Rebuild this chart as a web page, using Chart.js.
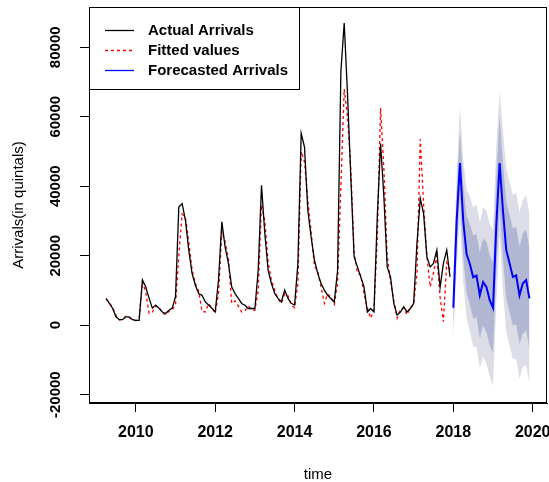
<!DOCTYPE html>
<html>
<head>
<meta charset="utf-8">
<script src="https://cdn.jsdelivr.net/npm/chart.js@4.4.1/dist/chart.umd.min.js"></script>
<style>
	html, body { margin: 0; padding: 0; background: #fff; }
	#wrap { width: 549px; height: 482px; }
</style>
</head>
<body>
<div id="wrap"><canvas id="arrivalsChart"></canvas></div>
<script>
// monthly series, first observation April 2009
const startYear = 2009.25;
const actualArrivals = [
	7700, 6250, 4800, 2400, 1600, 1600, 2400, 2400, 1600, 1400, 1400, 13000,
	11000, 7800, 4900, 5800, 4900, 3800, 3350, 4300, 4900, 8200, 34000, 35000,
	30200, 21600, 14900, 11500, 9100, 8600, 6700, 5800, 4900, 3800, 13000, 29800,
	22500, 17800, 11000, 9100, 7700, 6250, 5760, 4800, 4800, 4800, 15800, 40300,
	26400, 15800, 12000, 9100, 7700, 6700, 10100, 7700, 6300, 5800, 17800, 55200,
	51300, 33100, 25400, 18700, 14900, 12000, 10100, 8600, 7700, 6700, 15800, 73000,
	87000, 66700, 42700, 19700, 16800, 13900, 11000, 3800, 4800, 3800, 31200, 52300,
	37000, 16800, 13900, 6250, 2900, 3800, 5300, 3800, 4800, 6250, 23500, 36500,
	32200, 19700, 16800, 17800, 21600, 11000, 17800, 21600, 13900
];
const fittedValues = [
	7500, 6500, 5000, 2800, 1500, 1800, 2600, 2200, 1500, 1300, 2000, 12500,
	9500, 3400, 3800, 5500, 5200, 3500, 3000, 4000, 4500, 6000, 20000, 32000,
	31000, 24000, 16000, 12000, 9800, 4000, 3800, 6200, 5000, 3500, 9000, 27000,
	24000, 19000, 6300, 7000, 5500, 3800, 4200, 5500, 4500, 4300, 10000, 34600,
	30000, 18000, 13000, 10000, 7500, 6300, 9000, 8500, 5800, 5000, 12000, 50000,
	47000, 36000, 27000, 17000, 15500, 11000, 6300, 9000, 8000, 6000, 12000, 40000,
	68000, 60000, 45000, 21000, 15000, 14500, 9000, 5000, 2000, 4500, 25000, 62500,
	45000, 20000, 12500, 7200, 2000, 4500, 5000, 3000, 5000, 6000, 15000, 53500,
	35000, 20000, 11000, 15000, 20000, 8000, 1000, 18000, 16000
];

// forecast, January 2018 to December 2019
const forecastStart = 2018.0;
const forecastMean = [
	5000, 30000, 46700, 30000, 20500, 17600, 13800, 14300, 8600, 12400, 11000, 7200,
	5000, 29000, 46700, 33000, 21600, 17800, 13900, 14300, 8600, 12000, 13000, 7700
];
const hi80 = [
	11000, 38000, 56200, 40500, 31500, 29100, 25800, 26300, 21100, 24900, 24000, 20200,
	18000, 42500, 60200, 46500, 35600, 31800, 27900, 28300, 22600, 26500, 27500, 22200
];
const lo80 = [
	-1000, 22000, 37200, 19500, 9500, 6100, 1800, 2300, -3900, -100, -2000, -5800,
	-8000, 15500, 33200, 19500, 7600, 3800, -100, 300, -5400, -2500, -1500, -6800
];
const hi95 = [
	15000, 43000, 62700, 47500, 39000, 37100, 33800, 34800, 29600, 33900, 33000, 29200,
	27500, 51500, 67500, 56000, 45100, 41300, 37400, 38300, 32600, 36000, 37500, 32200
];
const lo95 = [
	-5000, 17000, 30700, 12500, 2000, -1900, -6200, -6200, -12400, -9100, -11000, -14800,
	-17500, 6500, 25900, 10000, -1900, -5700, -9600, -9700, -15400, -12000, -11500, -16800
];

const xTicks = [2010, 2012, 2014, 2016, 2018, 2020];
const yTicks = [-20000, 0, 20000, 40000, 60000, 80000];

const FONT = '"Liberation Sans", Arial, sans-serif';

function toPoints(values, start)
{
	return values.map((v, i) => ({ x: start + i / 12, y: v }));
}

// box round the plot region and the rotated y labels (R draws them along the axis)
const rAxesPlugin = {
	id: 'rAxes',
	afterDraw(chart) {
		const { ctx, chartArea, scales } = chart;
		ctx.save();
		ctx.strokeStyle = '#000';
		ctx.lineWidth = 1;
		ctx.strokeRect(chartArea.left + 0.5, chartArea.top + 0.5,
			chartArea.right - chartArea.left - 1, chartArea.bottom - chartArea.top - 1);

		ctx.font = 'bold 15px ' + FONT;
		ctx.fillStyle = '#000';
		ctx.textAlign = 'center';
		ctx.textBaseline = 'middle';
		yTicks.forEach(v => {
			const py = scales.y.getPixelForValue(v);
			ctx.save();
			ctx.translate(56, py);
			ctx.rotate(-Math.PI / 2);
			ctx.fillText(String(v), 0, 0);
			ctx.restore();
		});
		ctx.restore();
	}
};

const rLegendPlugin = {
	id: 'rLegend',
	afterDraw(chart) {
		const { ctx, chartArea } = chart;
		const items = chart.data.datasets.slice(0, 3);
		const left = chartArea.left, top = chartArea.top;
		ctx.save();
		ctx.fillStyle = '#fff';
		ctx.fillRect(left + 0.5, top + 0.5, 210, 82);
		ctx.strokeStyle = '#000';
		ctx.lineWidth = 1;
		ctx.strokeRect(left + 0.5, top + 0.5, 210, 82);
		ctx.font = 'bold 15px ' + FONT;
		ctx.textAlign = 'left';
		ctx.textBaseline = 'middle';
		items.forEach((ds, i) => {
			const y = top + 23 + i * 20;
			ctx.beginPath();
			ctx.setLineDash(ds.borderDash || []);
			ctx.strokeStyle = ds.borderColor;
			ctx.lineWidth = 1.3;
			ctx.moveTo(left + 16, y + 0.5);
			ctx.lineTo(left + 45, y + 0.5);
			ctx.stroke();
			ctx.setLineDash([]);
			ctx.fillStyle = '#000';
			ctx.fillText(ds.label, left + 59, y + 1);
		});
		ctx.restore();
	}
};

new Chart(document.getElementById('arrivalsChart'), {
	type: 'line',
	data: {
		datasets: [
			{
				label: 'Actual Arrivals',
				data: toPoints(actualArrivals, startYear),
				borderColor: '#000000',
				borderWidth: 1.3,
				pointRadius: 0,
				fill: false
			},
			{
				label: 'Fitted values',
				data: toPoints(fittedValues, startYear),
				borderColor: '#ff0000',
				borderWidth: 1.3,
				borderDash: [3, 3],
				pointRadius: 0,
				fill: false
			},
			{
				label: 'Forecasted Arrivals',
				data: toPoints(forecastMean, forecastStart),
				borderColor: '#0000ff',
				borderWidth: 2,
				pointRadius: 0,
				fill: false
			},
			{
				label: 'hi80',
				data: toPoints(hi80, forecastStart),
				borderWidth: 0,
				borderColor: 'rgba(0,0,0,0)',
				backgroundColor: '#b1b7d2',
				pointRadius: 0,
				fill: '+1'
			},
			{
				label: 'lo80',
				data: toPoints(lo80, forecastStart),
				borderWidth: 0,
				borderColor: 'rgba(0,0,0,0)',
				pointRadius: 0,
				fill: false
			},
			{
				label: 'hi95',
				data: toPoints(hi95, forecastStart),
				borderWidth: 0,
				borderColor: 'rgba(0,0,0,0)',
				backgroundColor: '#dcdde6',
				pointRadius: 0,
				fill: '+1'
			},
			{
				label: 'lo95',
				data: toPoints(lo95, forecastStart),
				borderWidth: 0,
				borderColor: 'rgba(0,0,0,0)',
				pointRadius: 0,
				fill: false
			}
		]
	},
	options: {
		responsive: true,
		maintainAspectRatio: false,
		animation: false,
		devicePixelRatio: 1,
		layout: { padding: { top: 7, right: 2, left: 0, bottom: 0 } },
		elements: { line: { tension: 0 } },
		plugins: {
			legend: { display: false },
			tooltip: { enabled: false }
		},
		scales: {
			x: {
				type: 'linear',
				min: 2008.82,
				max: 2020.36,
				afterBuildTicks: (scale) => { scale.ticks = xTicks.map(v => ({ value: v })); },
				afterFit: (scale) => { scale.height = 79; scale.paddingLeft = 0; scale.paddingRight = 0; },
				grid: { drawOnChartArea: false, color: '#000', tickLength: 9, lineWidth: 1 },
				border: { display: true, color: '#000' },
				ticks: {
					color: '#000',
					padding: 11,
					maxRotation: 0,
					autoSkip: false,
					font: { family: FONT, size: 16, weight: 'bold' },
					callback: (v) => String(v)
				},
				title: {
					display: true,
					text: 'time',
					color: '#000',
					font: { family: FONT, size: 15, lineHeight: 1 },
					padding: { top: 0, bottom: 0 }
				}
			},
			y: {
				type: 'linear',
				min: -22400,
				max: 91600,
				afterBuildTicks: (scale) => { scale.ticks = yTicks.map(v => ({ value: v })); },
				afterFit: (scale) => { scale.width = 89; scale.paddingTop = 0; scale.paddingBottom = 0; },
				grid: { drawOnChartArea: false, color: '#000', tickLength: 9, lineWidth: 1 },
				border: { display: true, color: '#000' },
				ticks: { display: false },
				title: {
					display: true,
					text: 'Arrivals(in quintals)',
					color: '#000',
					font: { family: FONT, size: 15, lineHeight: 1.2 },
					padding: { top: 10, bottom: 0 }
				}
			}
		}
	},
	plugins: [rAxesPlugin, rLegendPlugin]
});
</script>
</body>
</html>
